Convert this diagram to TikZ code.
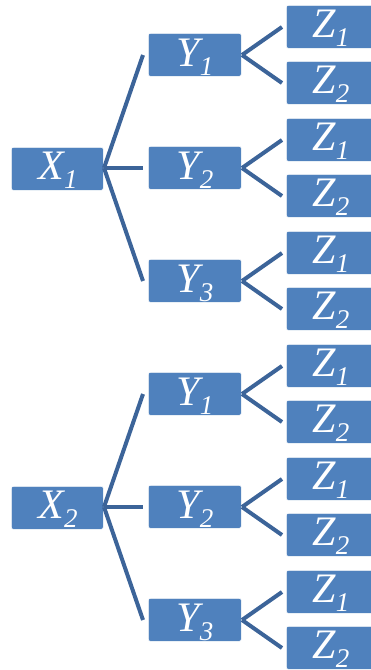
\documentclass[tikz,border=0pt]{standalone}
\usepackage{fontspec}
\setmainfont{Liberation Serif}
\definecolor{boxblue}{HTML}{4F81BD}
\definecolor{lineblue}{HTML}{3C6499}
\newcommand{\lab}[2]{{\fontsize{42}{42}\selectfont\itshape #1}\raisebox{-9pt}{\fontsize{27}{27}\selectfont\itshape #2}}
\tikzset{
  bx/.style={fill=boxblue, draw=white, line width=0.6pt, rounded corners=2pt, minimum height=43pt, inner sep=0pt, anchor=north west},
  xbox/.style={bx, minimum width=92pt},
  ybox/.style={bx, minimum width=93pt},
  zbox/.style={bx, minimum width=90pt},
  tx/.style={text=white, anchor=base, inner sep=0pt},
  conn/.style={draw=lineblue, line width=4pt}
}
\begin{document}
\begin{tikzpicture}[x=1pt,y=-1pt]
\useasboundingbox (0,0) rectangle (371,670);
\clip (0,0) rectangle (371,670);
\foreach \g/\off in {1/0,2/339}{
  \node[xbox] (X\g) at (11,147+\off) {};
  \node[tx] (XT\g) at (58,179+\off) {\lab{X}{\g}};
  \coordinate (XR\g) at (104,168+\off);
  \foreach \y/\yc in {1/55,2/168,3/281}{
    \node[ybox] (Y\g\y) at (148,\yc-22+\off) {};
    \node[tx] (YT\g\y) at (195,\yc+11+\off) {\lab{Y}{\y}};
    \coordinate (YL\g\y) at (143,\yc+\off);
    \coordinate (YR\g\y) at (242,\yc+\off);
    \draw[conn] (XR\g) -- (YL\g\y);
    \foreach \z/\dz in {1/-28,2/28}{
      \node[zbox] (Z\g\y\z) at (286,\yc+\dz-22+\off) {};
      \node[tx] (ZT\g\y\z) at (331,\yc+\dz+10+\off) {\lab{Z}{\z}};
      \coordinate (ZL\g\y\z) at (282,\yc+\dz+\off);
      \draw[conn] (YR\g\y) -- (ZL\g\y\z);
    }
  }
}
\end{tikzpicture}
\end{document}
